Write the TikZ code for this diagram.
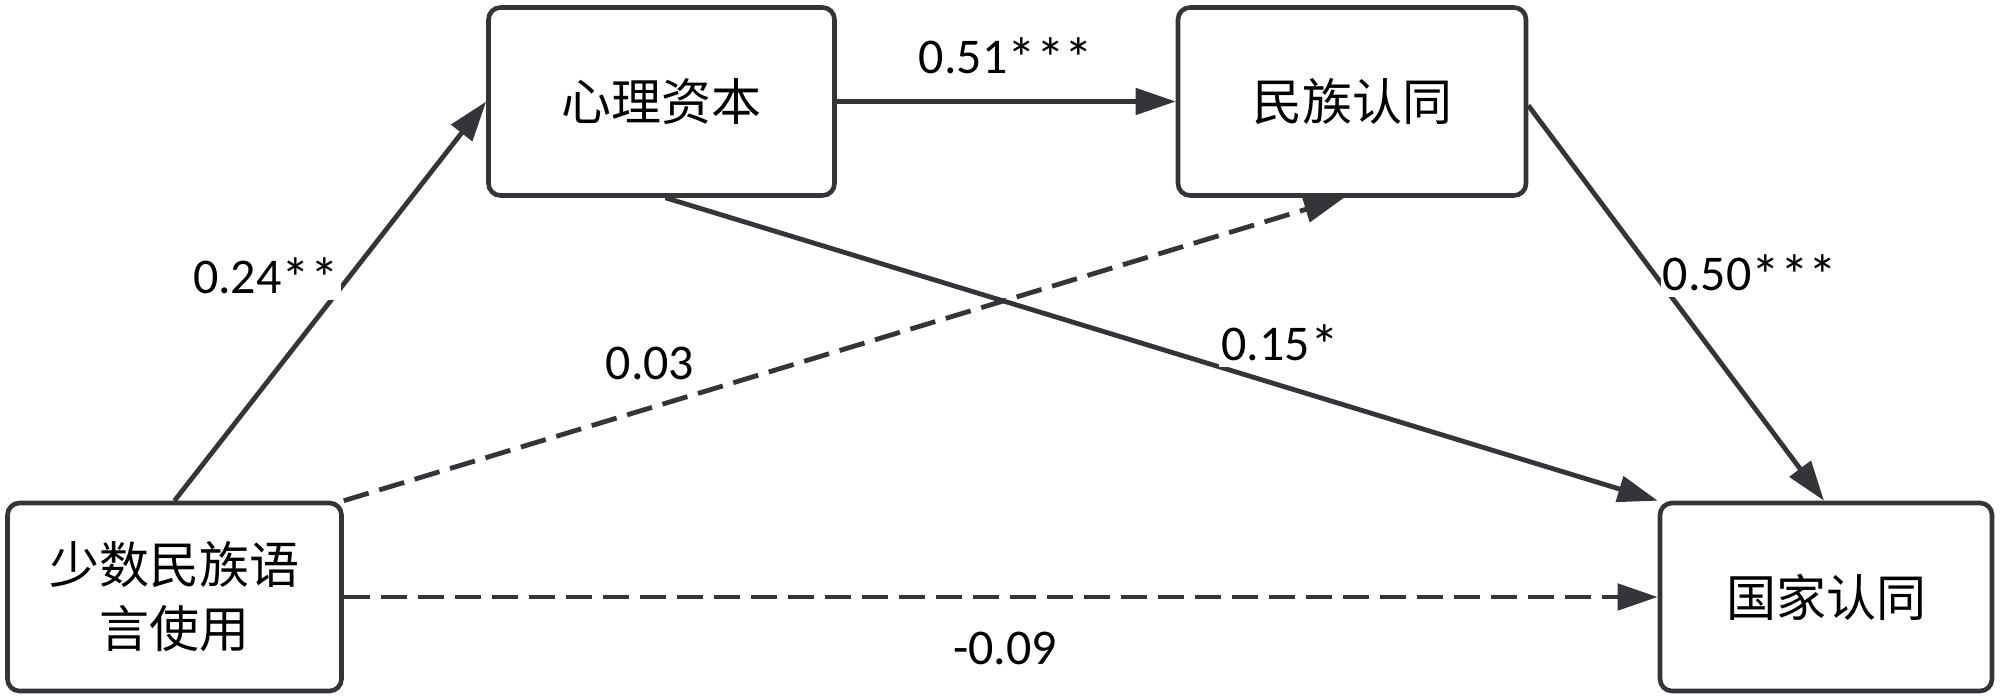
\documentclass[tikz,border=0pt]{standalone}
\usepackage{fontspec}
\setmainfont{Carlito}
\newfontfamily\cjk{Noto Sans CJK SC}
\usetikzlibrary{arrows.meta}
\definecolor{edge}{HTML}{333538}
\newcommand{\st}{\raisebox{-0.1em}{\scalebox{1.15}{*}}}
\tikzset{
  box/.style={draw=edge, line width=2.3pt, rounded corners=6pt, fill=white, inner sep=0pt, font=\cjk\fontsize{25}{32}\selectfont, align=center},
  conn/.style={draw=edge, line width=2.4pt, -{Triangle[length=20pt,width=13pt]}},
  dsh/.style={dash pattern=on 13pt off 5.5pt},
  lbl/.style={fill=white, inner sep=1pt, font=\fontsize{25}{30}\selectfont, text=black}
}
\begin{document}
\begin{tikzpicture}[x=0.5pt,y=-0.5pt]
\useasboundingbox (0,0) rectangle (2000,699);
\node[box, minimum width=167pt, minimum height=94pt] (A) at (174.5,597) {少数民族语\\言使用};
\node[box, minimum width=173pt, minimum height=94pt] (M) at (661.5,101.5) {心理资本};
\node[box, minimum width=174pt, minimum height=94pt] (E) at (1352,101.5) {民族认同};
\node[box, minimum width=166pt, minimum height=94pt] (N) at (1826,597) {国家认同};
\draw[conn] (A.north) -- (M.west);
\draw[conn] (M.east) -- (E.west);
\draw[conn, dsh] (A.north east) -- ([xshift=-4pt]E.south);
\draw[conn] ([xshift=2pt]M.south) -- (N.north west);
\draw[conn] ([yshift=-2pt]E.east) -- ([xshift=-1pt]N.north);
\draw[conn, dsh] (A.east) -- (N.west);
\node[lbl] (l1) at (266,278) {0.24\st\st};
\node[lbl] (l2) at (1006,58) {0.51\st\st\st};
\node[lbl] (l3) at (650,363) {0.03};
\node[lbl] (l4) at (1280,345) {0.15\st};
\node[lbl] (l5) at (1750,275) {0.50\st\st\st};
\node[lbl] (l6) at (1005,648) {-0.09};
\end{tikzpicture}
\end{document}
